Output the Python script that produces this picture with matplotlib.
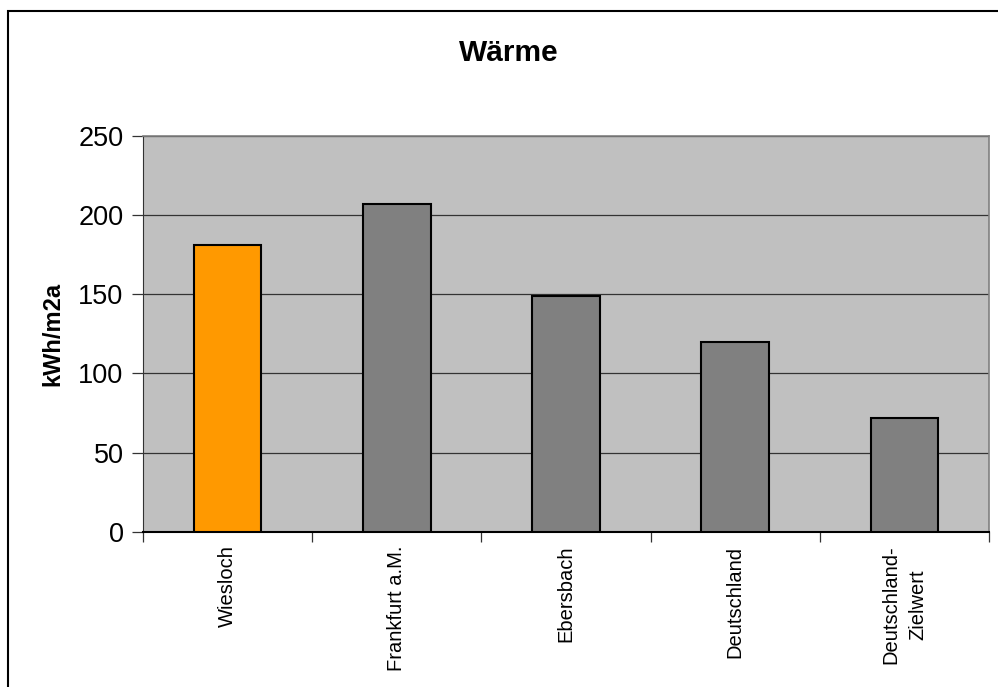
import matplotlib
matplotlib.use("Agg")
import matplotlib.pyplot as plt
from matplotlib.patches import Rectangle
import numpy as np

plt.rcParams['font.family'] = ['Liberation Sans', 'DejaVu Sans']

categories = ["Wiesloch", "Frankfurt a.M.", "Ebersbach", "Deutschland", "Deutschland-\nZielwert"]
values = [181, 207, 149, 120, 72]
bar_colors = ["#FF9900", "#808080", "#808080", "#808080", "#808080"]
y_ticks = [0, 50, 100, 150, 200, 250]

W, H = 998, 687
fig = plt.figure(figsize=(W / 100, H / 100), dpi=100)
fig.patch.set_facecolor("white")

# outer chart frame
fig.add_artist(Rectangle((8 / W, -0.1), 1.2, (H - 11) / H + 0.1, transform=fig.transFigure,
                         fill=False, edgecolor="black", linewidth=1.5))

ax = fig.add_axes([143 / W, 1 - 531.7 / H, (989 - 143) / W, (531.7 - 136) / H])
ax.set_facecolor("#C0C0C0")

x = np.arange(len(categories))
ax.bar(x, values, width=0.4, color=bar_colors, edgecolor="black", linewidth=1.5, zorder=3)

ax.set_xlim(-0.5, len(categories) - 0.5)
ax.set_ylim(0, 250)
ax.set_yticks(y_ticks)
ax.set_yticklabels([str(v) for v in y_ticks], fontsize=19.5)
ax.yaxis.grid(True, color="#333333", linewidth=0.9, zorder=1)
ax.tick_params(axis="y", length=8, width=0.9, color="#333333", pad=6)

ax.set_xticks(x)
ax.set_xticklabels(categories, rotation=90, fontsize=14.5, ha="center", va="top",
                   multialignment="center", linespacing=1.55)
ax.tick_params(axis="x", which="major", length=0, pad=10)
ax.set_xticks(np.arange(-0.5, len(categories)), minor=True)
ax.tick_params(axis="x", which="minor", length=7, width=0.9, color="#333333")

for side in ("top", "right"):
    ax.spines[side].set_color("#808080")
    ax.spines[side].set_linewidth(1.2)
ax.spines["left"].set_color("#333333")
ax.spines["bottom"].set_color("black")
ax.spines["bottom"].set_linewidth(1.5)

ax.set_ylabel("kWh/m2a", fontsize=17, fontweight="bold", labelpad=10)
fig.text(509 / W, 1 - 53 / H, "Wärme", fontsize=21.5, fontweight="bold",
         ha="center", va="center")

fig.savefig("out.png", dpi=100)
